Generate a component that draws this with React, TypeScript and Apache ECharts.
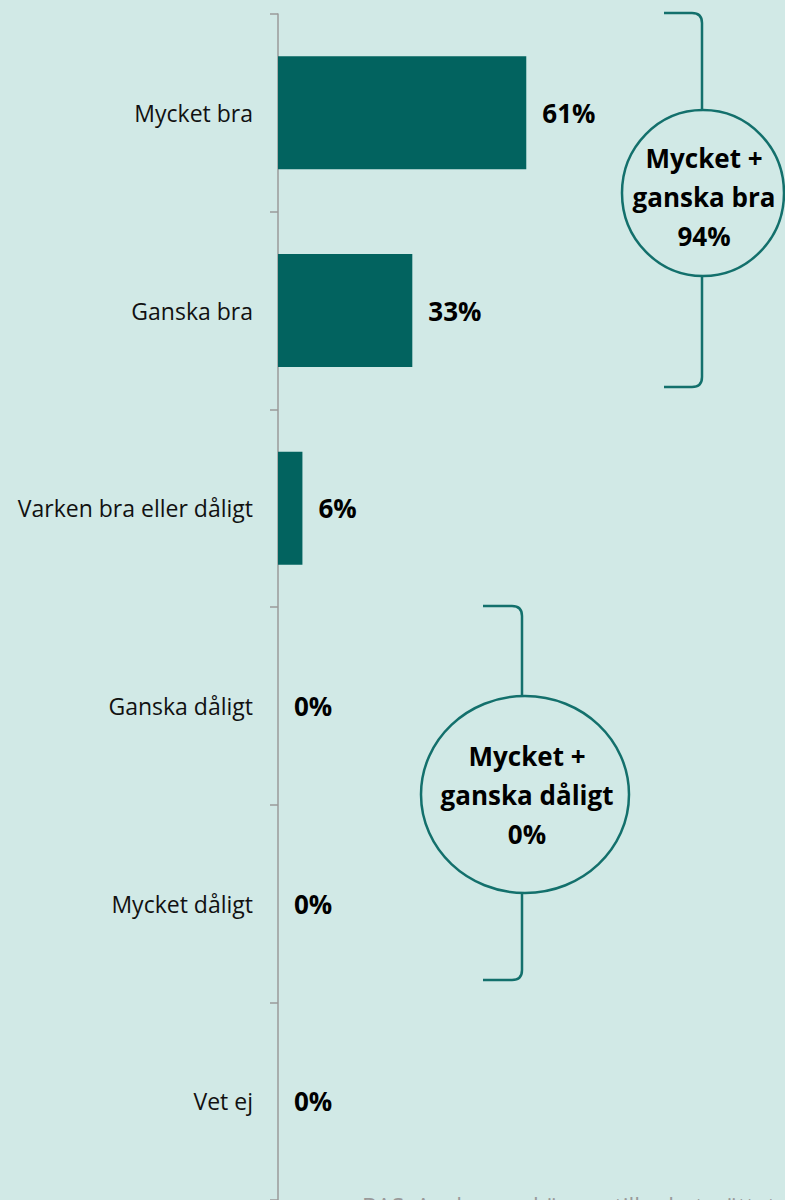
import React, { useEffect, useRef } from "react";
import * as echarts from "echarts";

const categories = [
  "Mycket bra",
  "Ganska bra",
  "Varken bra eller dåligt",
  "Ganska dåligt",
  "Mycket dåligt",
  "Vet ej",
];
const values = [61, 33, 6, 0, 0, 0];
const groupTopLines = ["Mycket +", "ganska bra", "94%"];
const groupBottomLines = ["Mycket +", "ganska dåligt", "0%"];
const footnote = "BAS: Av de som känner till arbetssättet";

const BG = "#d1e9e6";
const BAR = "#02635f";
const LINE = "#13706c";
const FONT = "'Open Sans', sans-serif";

let registered = false;
function registerShapes() {
  if (registered) return;
  registered = true;
  echarts.graphic.registerShape(
    "bracketA",
    echarts.graphic.extendPath(
      "M664,13 L692,13 Q702,13 702,23 L702,110 M702,276 L702,377 Q702,387 692,387 L664,387",
      {}
    )
  );
  echarts.graphic.registerShape(
    "bracketB",
    echarts.graphic.extendPath(
      "M483,606 L512,606 Q522,606 522,616 L522,696 M522,893 L522,970 Q522,980 512,980 L483,980",
      {}
    )
  );
}

export default function App() {
  const ref = useRef<HTMLDivElement>(null);
  useEffect(() => {
    registerShapes();
    const chart = echarts.init(ref.current!, null, { renderer: "svg" });
    const textStyle = (cx: number, cy: number, lines: string[]) =>
      lines.map((t, i) => ({
        type: "text",
        x: cx,
        y: cy + (i - 1) * 39,
        style: {
          text: t,
          fill: "#000",
          font: `bold 26px ${FONT}`,
          textAlign: "center",
          textVerticalAlign: "middle",
        },
        z: 10,
      }));
    chart.setOption({
      animation: false,
      backgroundColor: BG,
      grid: { left: 278, top: 14, width: 407, height: 1186, containLabel: false },
      xAxis: { type: "value", min: 0, max: 100, show: false },
      yAxis: {
        type: "category",
        data: categories,
        inverse: true,
        axisLine: { show: true, lineStyle: { color: "#9a9a9a", width: 1.5 } },
        axisTick: { show: true, length: 8, lineStyle: { color: "#9a9a9a", width: 1.5 } },
        axisLabel: { margin: 25, color: "#111", fontSize: 23, fontFamily: FONT },
        splitLine: { show: false },
      },
      series: [
        {
          type: "bar",
          data: values,
          barWidth: 113,
          itemStyle: { color: BAR },
          label: {
            show: true,
            position: "right",
            distance: 16,
            formatter: "{c}%",
            color: "#000",
            fontWeight: "bold",
            fontSize: 26,
            fontFamily: FONT,
          },
        },
      ],
      graphic: [
        { type: "bracketA", style: { fill: "none", stroke: LINE, lineWidth: 2.5 } },
        { type: "bracketB", style: { fill: "none", stroke: LINE, lineWidth: 2.5 } },
        {
          type: "ellipse",
          shape: { cx: 703, cy: 193, rx: 81, ry: 83 },
          style: { fill: "none", stroke: LINE, lineWidth: 2.5 },
        },
        {
          type: "ellipse",
          shape: { cx: 525, cy: 794.5, rx: 104, ry: 98.5 },
          style: { fill: "none", stroke: LINE, lineWidth: 2.5 },
        },
        ...textStyle(704, 197, groupTopLines),
        ...textStyle(527, 795, groupBottomLines),
        {
          type: "text",
          x: 362,
          y: 1194,
          style: { text: footnote, fill: "#9a9a9a", font: `23px ${FONT}` },
        },
      ],
    });
    return () => chart.dispose();
  }, []);
  return (
    <div
      ref={ref}
      style={{ position: "fixed", left: 0, top: 0, width: 785, height: 1200 }}
    />
  );
}
